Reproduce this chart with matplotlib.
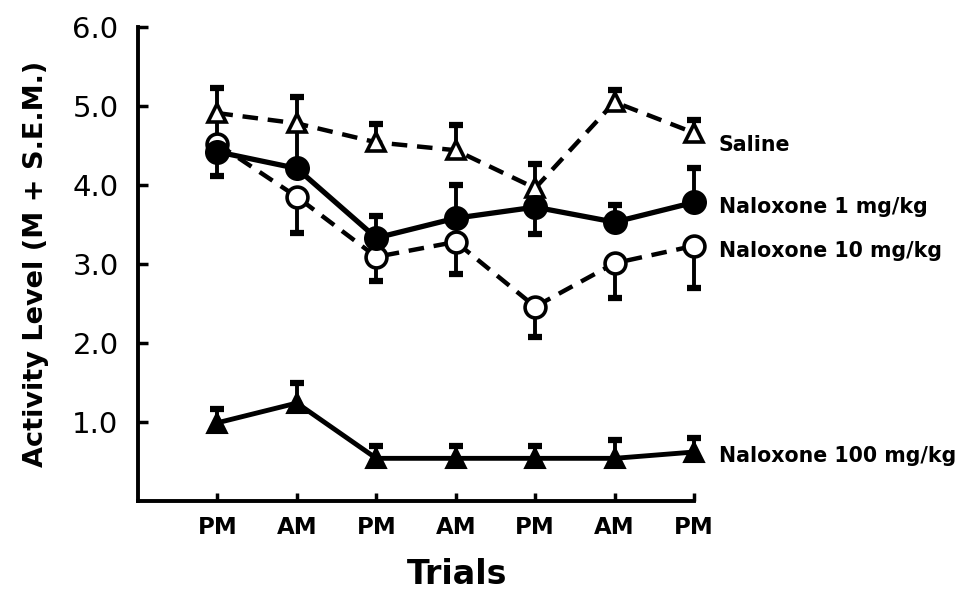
import matplotlib
matplotlib.use("Agg")
import matplotlib.pyplot as plt
import numpy as np

# ---- data ----
trial_labels = ["PM", "AM", "PM", "AM", "PM", "AM", "PM"]
trials = np.arange(1, 8)

series_names = ["Saline", "Naloxone 1 mg/kg", "Naloxone 10 mg/kg", "Naloxone 100 mg/kg"]

saline = [4.91, 4.78, 4.54, 4.44, 3.96, 5.05, 4.66]
saline_up = [0.32, 0.33, 0.23, 0.32, 0.31, 0.15, 0.16]
saline_down = [0, 0, 0, 0, 0, 0, 0]

nal1 = [4.42, 4.21, 3.33, 3.58, 3.72, 3.53, 3.78]
nal1_up = [0, 0.50, 0.28, 0.42, 0, 0.22, 0.43]
nal1_down = [0.31, 0, 0, 0, 0.34, 0, 0]

nal10 = [4.52, 3.85, 3.09, 3.28, 2.46, 3.01, 3.23]
nal10_up = [0.33, 0, 0, 0, 0, 0, 0]
nal10_down = [0, 0.46, 0.31, 0.41, 0.38, 0.44, 0.53]

nal100 = [0.99, 1.24, 0.54, 0.54, 0.54, 0.54, 0.62]
nal100_up = [0.17, 0.25, 0.15, 0.15, 0.16, 0.23, 0.18]
nal100_down = [0, 0, 0, 0, 0, 0, 0]

# label offsets (points) relative to last data value
label_dy = [-9, -3, -4, -3]

fig = plt.figure(figsize=(9.59, 5.94), dpi=100)
ax = fig.add_axes([138 / 959, 1 - 501 / 594, (694 - 138) / 959, (501 - 27) / 594])
ax.set_xlim(0, 7)
ax.set_ylim(0, 6)

LW = 3.2


def draw_err(y, up, down, z):
    y = np.asarray(y, float)
    up = np.asarray(up, float)
    down = np.asarray(down, float)
    top = y + up
    bot = y - down
    ax.vlines(trials, bot, top, colors="black", linewidth=2.8, zorder=z, clip_on=False)
    mu = up > 0
    md = down > 0
    ax.plot(trials[mu], top[mu], linestyle="none", marker="_", markersize=10,
            mew=4.5, color="black", zorder=z, clip_on=False)
    ax.plot(trials[md], bot[md], linestyle="none", marker="_", markersize=10,
            mew=4.5, color="black", zorder=z, clip_on=False)


# error bars
draw_err(saline, saline_up, saline_down, 2)
draw_err(nal1, nal1_up, nal1_down, 2)
draw_err(nal10, nal10_up, nal10_down, 2)
draw_err(nal100, nal100_up, nal100_down, 2)

dash = (3.5, 2.2)
# lines
ax.plot(trials, saline, color="black", linewidth=LW, linestyle=(0, dash), zorder=3,
        dash_capstyle="butt")
ax.plot(trials, nal10, color="black", linewidth=LW, linestyle=(0, dash), zorder=3,
        dash_capstyle="butt")
ax.plot(trials, nal1, color="black", linewidth=LW + 0.6, zorder=3)
ax.plot(trials, nal100, color="black", linewidth=LW + 0.3, zorder=3)

# markers
ax.plot(trials, saline, linestyle="none", marker="^", markersize=13, mfc="white",
        mec="black", mew=2.6, zorder=5, clip_on=False)
ax.plot(trials, nal10, linestyle="none", marker="o", markersize=15, mfc="white",
        mec="black", mew=2.6, zorder=5, clip_on=False)
ax.plot(trials, nal1, linestyle="none", marker="o", markersize=16, mfc="black",
        mec="black", mew=2, zorder=6, clip_on=False)
ax.plot(trials, nal100, linestyle="none", marker="^", markersize=14, mfc="black",
        mec="black", mew=1.5, zorder=6, clip_on=False)

# series labels
lasts = [saline[-1], nal1[-1], nal10[-1], nal100[-1]]
for name, yv, dy in zip(series_names, lasts, label_dy):
    ax.annotate(name, xy=(7, yv), xytext=(18, dy), textcoords="offset points",
                ha="left", va="center", fontsize=14.8, fontweight="bold",
                family="DejaVu Sans", annotation_clip=False)

# axes styling
for s in ["top", "right"]:
    ax.spines[s].set_visible(False)
for s in ["left", "bottom"]:
    ax.spines[s].set_linewidth(2.8)
    ax.spines[s].set_capstyle("projecting")

ax.set_yticks([1, 2, 3, 4, 5, 6])
ax.set_yticklabels(["1.0", "2.0", "3.0", "4.0", "5.0", "6.0"])
ax.set_xticks(trials)
ax.set_xticklabels(trial_labels)
ax.tick_params(axis="y", direction="in", length=7, width=2.5, pad=14, labelsize=21)
ax.tick_params(axis="x", direction="in", length=6, width=2.5, pad=11, labelsize=16.5)
for t in ax.get_xticklabels():
    t.set_fontweight("bold")

ax.set_ylabel("Activity Level (M + S.E.M.)", fontsize=19.5, fontweight="bold")
ax.yaxis.set_label_coords(-0.16, 0.5)
ax.set_xlabel("Trials", fontsize=24, fontweight="bold")
ax.xaxis.set_label_coords((457 - 138) / 556, -0.12)

fig.savefig("out.png", dpi=100)
